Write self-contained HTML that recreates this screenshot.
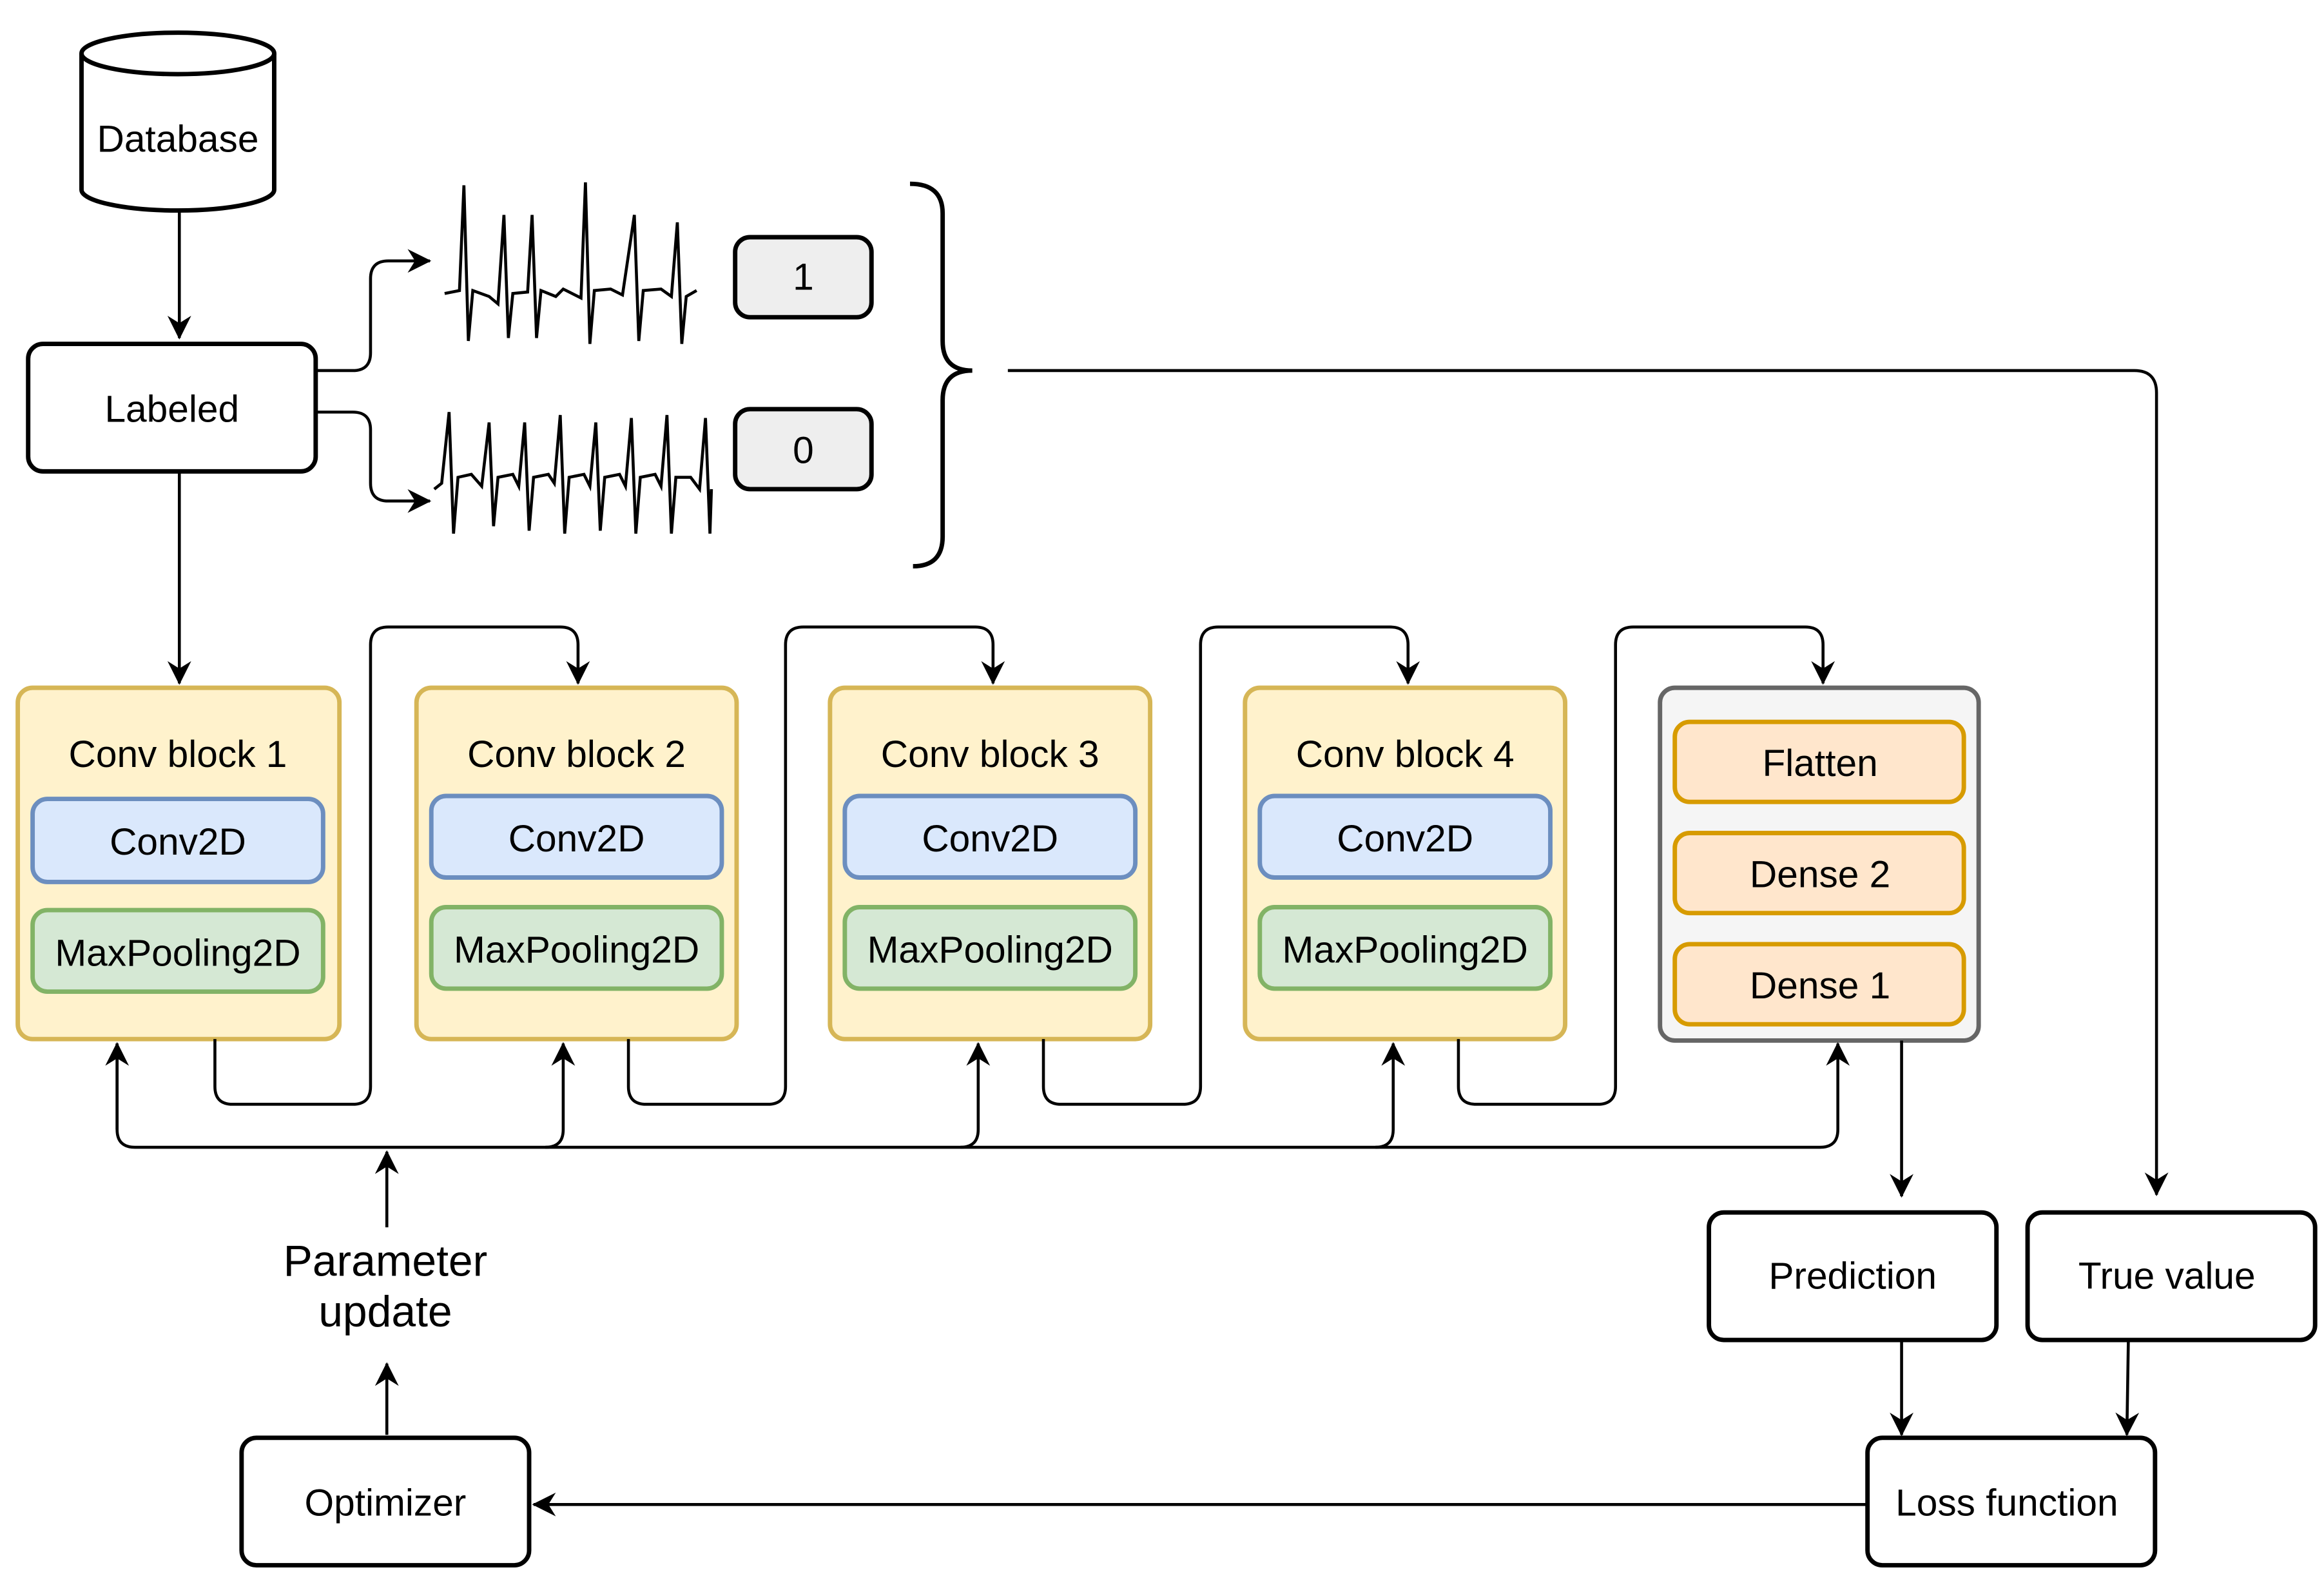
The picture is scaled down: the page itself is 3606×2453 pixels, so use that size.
<!DOCTYPE html>
<html><head><meta charset="utf-8"><style>
html,body{margin:0;padding:0;background:#fff}
svg{display:block}
text{font-family:"Liberation Sans",sans-serif;font-size:25.5px;fill:#000;text-anchor:middle;dominant-baseline:central}
</style></head><body>
<svg width="3606" height="2453" viewBox="0 0 1568 1066.6" xmlns="http://www.w3.org/2000/svg">
<defs>
<marker id="b" markerWidth="18" markerHeight="18" refX="15" refY="8" orient="auto" markerUnits="userSpaceOnUse"><path d="M0,0 L16,8 L0,16 L5,8 Z" fill="#000"/></marker></defs>
<g fill="none" stroke="#000" stroke-width="2">
<path d="M55,36 V128 A65,14 0 0 0 185,128 V36" fill="#fff" stroke-width="3"/>
<ellipse cx="120" cy="36" rx="65" ry="14" fill="#fff" stroke-width="3"/>
<path d="M121,143 V228" marker-end="url(#b)"/>
<rect x="19" y="232" width="194" height="86" rx="10" fill="#fff" stroke-width="3"/>
<path d="M213,250 H238 Q250,250 250,238 V188 Q250,176 262,176 H290" marker-end="url(#b)"/>
<path d="M213,278 H238 Q250,278 250,290 V326 Q250,338 262,338 H290" marker-end="url(#b)"/>
<path d="M300,198 L310,196 L313,125 L316,230 L319,196 L330,200 L336,205 L340,145 L343,228 L346,198 L356,197 L359,145 L362,228 L365,196 L375,200 L380,195 L384,197 L392,201 L395,123 L398,232 L401,196 L412,195 L420,199 L428,145 L431,230 L434,196 L446,195 L453,200 L457,150 L460,232 L463,200 L470,196"/>
<path d="M293,330 L298,326 L303,278 L306,360 L309,322 L318,320 L325,328 L330,285 L333,355 L336,322 L346,320 L350,328 L354,285 L357,358 L360,322 L370,320 L374,326 L378,280 L381,360 L384,322 L394,320 L398,328 L402,285 L405,358 L408,322 L418,320 L422,328 L426,282 L429,360 L432,322 L442,320 L446,328 L450,280 L453,360 L456,322 L466,322 L472,330 L476,282 L479,360 L480,330"/>
<rect x="496" y="160" width="92" height="54" rx="10" fill="#eee" stroke-width="3"/>
<rect x="496" y="276" width="92" height="54" rx="10" fill="#eee" stroke-width="3"/>
<path d="M614,124 Q636,124 636,144 V230 Q636,250 656,250 Q636,250 636,270 V362 Q636,382 616,382" stroke-width="3"/>
<path d="M680,250 H1440 Q1455,250 1455,265 V806" marker-end="url(#b)"/>
<path d="M121,318 V461" marker-end="url(#b)"/>
<g stroke-width="3">
<rect x="12" y="464" width="217" height="237" rx="10" fill="#fff2cc" stroke="#d6b656"/>
<rect x="281" y="464" width="216" height="237" rx="10" fill="#fff2cc" stroke="#d6b656"/>
<rect x="560" y="464" width="216" height="237" rx="10" fill="#fff2cc" stroke="#d6b656"/>
<rect x="840" y="464" width="216" height="237" rx="10" fill="#fff2cc" stroke="#d6b656"/>
<rect x="22" y="539" width="196" height="56" rx="10" fill="#dae8fc" stroke="#6c8ebf"/>
<rect x="22" y="614" width="196" height="55" rx="10" fill="#d5e8d4" stroke="#82b366"/>
<rect x="291" y="537" width="196" height="55" rx="10" fill="#dae8fc" stroke="#6c8ebf"/>
<rect x="291" y="612" width="196" height="55" rx="10" fill="#d5e8d4" stroke="#82b366"/>
<rect x="570" y="537" width="196" height="55" rx="10" fill="#dae8fc" stroke="#6c8ebf"/>
<rect x="570" y="612" width="196" height="55" rx="10" fill="#d5e8d4" stroke="#82b366"/>
<rect x="850" y="537" width="196" height="55" rx="10" fill="#dae8fc" stroke="#6c8ebf"/>
<rect x="850" y="612" width="196" height="55" rx="10" fill="#d5e8d4" stroke="#82b366"/>
<rect x="1120" y="464" width="215" height="238" rx="10" fill="#f5f5f5" stroke="#666"/>
<rect x="1130" y="487" width="195" height="54" rx="10" fill="#ffe6cc" stroke="#d79b00"/>
<rect x="1130" y="562" width="195" height="54" rx="10" fill="#ffe6cc" stroke="#d79b00"/>
<rect x="1130" y="637" width="195" height="54" rx="10" fill="#ffe6cc" stroke="#d79b00"/>
</g>
<path d="M145,701 V733 Q145,745 157,745 H238 Q250,745 250,733 V435 Q250,423 262,423 H378 Q390,423 390,435 V461" marker-end="url(#b)"/>
<path d="M424,701 V733 Q424,745 436,745 H518 Q530,745 530,733 V435 Q530,423 542,423 H658 Q670,423 670,435 V461" marker-end="url(#b)"/>
<path d="M704,701 V733 Q704,745 716,745 H798 Q810,745 810,733 V435 Q810,423 822,423 H938 Q950,423 950,435 V461" marker-end="url(#b)"/>
<path d="M984,701 V733 Q984,745 996,745 H1078 Q1090,745 1090,733 V435 Q1090,423 1102,423 H1218 Q1230,423 1230,435 V461" marker-end="url(#b)"/>
<path d="M79,704 V762 Q79,774 91,774 H1228 Q1240,774 1240,762 V704" marker-end="url(#b)"/>
<path d="M79,762 V704" marker-end="url(#b)"/>
<path d="M368,774 Q380,774 380,762 V704" marker-end="url(#b)"/>
<path d="M648,774 Q660,774 660,762 V704" marker-end="url(#b)"/>
<path d="M928,774 Q940,774 940,762 V704" marker-end="url(#b)"/>
<path d="M261,828 V777" marker-end="url(#b)"/>
<path d="M261,968 V920" marker-end="url(#b)"/>
<rect x="163" y="970" width="194" height="86" rx="10" fill="#fff" stroke-width="3"/>
<rect x="1260" y="970" width="194" height="86" rx="10" fill="#fff" stroke-width="3"/>
<rect x="1153" y="818" width="194" height="86" rx="10" fill="#fff" stroke-width="3"/>
<rect x="1368" y="818" width="194" height="86" rx="10" fill="#fff" stroke-width="3"/>
<path d="M1260,1015 H360" marker-end="url(#b)"/>
<path d="M1283,702 V807" marker-end="url(#b)"/>
<path d="M1283,904 V968" marker-end="url(#b)"/>
<path d="M1436,904 L1435,968" marker-end="url(#b)"/>
</g>
<text x="120" y="94">Database</text>
<text x="116" y="276">Labeled</text>
<text x="542" y="187">1</text>
<text x="542" y="304">0</text>
<text x="120" y="509">Conv block 1</text>
<text x="389" y="509">Conv block 2</text>
<text x="668" y="509">Conv block 3</text>
<text x="948" y="509">Conv block 4</text>
<text x="120" y="568">Conv2D</text>
<text x="120" y="643">MaxPooling2D</text>
<text x="389" y="566">Conv2D</text>
<text x="389" y="641">MaxPooling2D</text>
<text x="668" y="566">Conv2D</text>
<text x="668" y="641">MaxPooling2D</text>
<text x="948" y="566">Conv2D</text>
<text x="948" y="641">MaxPooling2D</text>
<text x="1228" y="515">Flatten</text>
<text x="1228" y="590">Dense 2</text>
<text x="1228" y="665">Dense 1</text>
<text x="260" y="851" style="font-size:29.5px">Parameter</text>
<text x="260" y="885" style="font-size:29.5px">update</text>
<text x="260" y="1014">Optimizer</text>
<text x="1354" y="1014">Loss function</text>
<text x="1250" y="861">Prediction</text>
<text x="1462" y="861">True value</text>
</svg>
</body></html>
